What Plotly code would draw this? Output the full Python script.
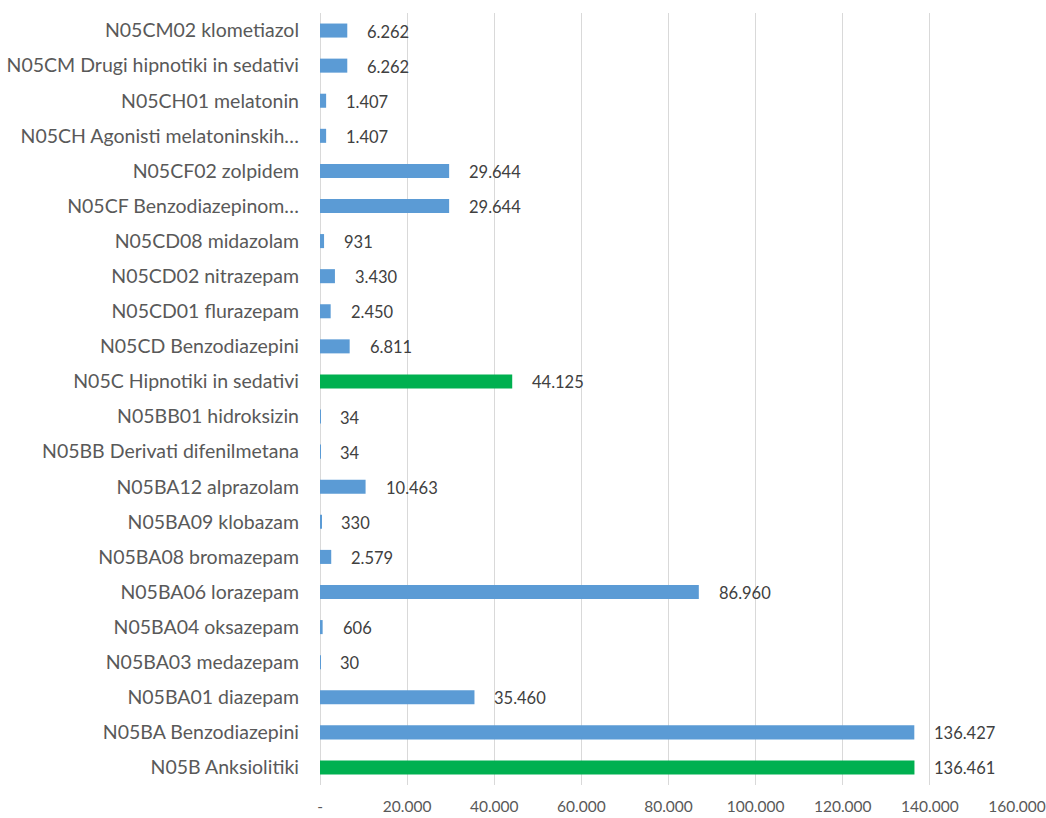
import plotly.graph_objects as go

# categories listed bottom -> top, as drawn
categories = [
    "N05B Anksiolitiki",
    "N05BA Benzodiazepini",
    "N05BA01 diazepam",
    "N05BA03 medazepam",
    "N05BA04 oksazepam",
    "N05BA06 lorazepam",
    "N05BA08 bromazepam",
    "N05BA09 klobazam",
    "N05BA12 alprazolam",
    "N05BB Derivati difenilmetana",
    "N05BB01 hidroksizin",
    "N05C Hipnotiki in sedativi",
    "N05CD Benzodiazepini",
    "N05CD01 flurazepam",
    "N05CD02 nitrazepam",
    "N05CD08 midazolam",
    "N05CF Benzodiazepinom…",
    "N05CF02 zolpidem",
    "N05CH Agonisti melatoninskih…",
    "N05CH01 melatonin",
    "N05CM Drugi hipnotiki in sedativi",
    "N05CM02 klometiazol",
]
values = [136461, 136427, 35460, 30, 606, 86960, 2579, 330, 10463, 34, 34,
          44125, 6811, 2450, 3430, 931, 29644, 29644, 1407, 1407, 6262, 6262]
group_rows = ["N05B Anksiolitiki", "N05C Hipnotiki in sedativi"]

x_ticks = [0, 20000, 40000, 60000, 80000, 100000, 120000, 140000, 160000]
x_tick_labels = ["-", "20.000", "40.000", "60.000", "80.000",
                 "100.000", "120.000", "140.000", "160.000"]

BLUE = "#5B9BD5"
GREEN = "#00B050"
FONT = "Lato"

def fmt(v):
    return f"{v:,}".replace(",", ".")

colors = [GREEN if c in group_rows else BLUE for c in categories]

fig = go.Figure(go.Bar(
    x=values, y=categories, orientation="h",
    marker=dict(color=colors, line=dict(width=0)),
    hoverinfo="x+y",
))

for c, v in zip(categories, values):
    fig.add_annotation(x=v, y=c, text=fmt(v), showarrow=False,
                       xanchor="left", xshift=18, yshift=-1,
                       font=dict(family=FONT, size=16.5, color="#404040"))

fig.update_layout(
    width=1046, height=818,
    margin=dict(l=320, r=29, t=13, b=33),
    plot_bgcolor="white", paper_bgcolor="white",
    bargap=0.6, showlegend=False,
    font=dict(family=FONT, color="#595959"),
)
fig.update_xaxes(range=[0, 160000], tickvals=x_ticks, ticktext=x_tick_labels,
                 showgrid=True, gridcolor="#D9D9D9", gridwidth=1,
                 zeroline=True, zerolinecolor="#D9D9D9", zerolinewidth=1,
                 tickfont=dict(family=FONT, size=15.5, color="#595959"),
                 ticklabelstandoff=10, ticklabeloverflow="allow",
                 automargin=False)
fig.update_yaxes(categoryorder="array", categoryarray=categories,
                 showgrid=False, showline=False, automargin=False,
                 tickfont=dict(family=FONT, size=19.5, color="#595959"),
                 ticklabelstandoff=20)

# page body has a default 8px margin; drop it so the figure fills the window
fig.write_html("out.html", config={"displayModeBar": False},
               post_script="document.body.style.margin='0';")
